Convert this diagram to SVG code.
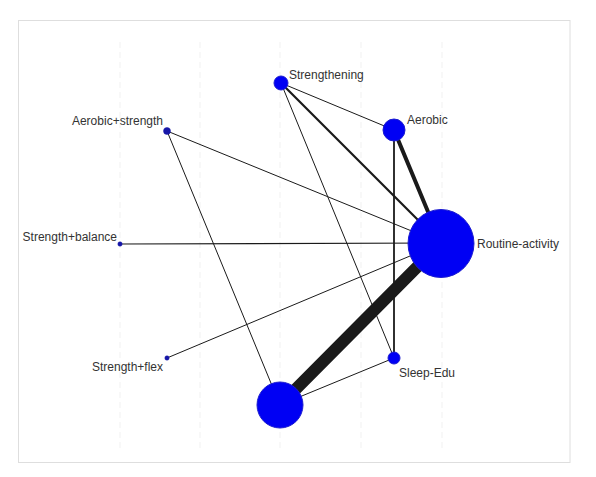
<svg xmlns="http://www.w3.org/2000/svg" width="596" height="477" viewBox="0 0 596 477">
<style>
.lbl{font-family:"Liberation Sans",Arial,sans-serif;font-size:12px;fill:#333}
.grid{stroke:#f1f1f1;stroke-width:1;stroke-dasharray:6 4;fill:none}
.e{stroke:#1a1a1a;stroke-linecap:round;fill:none}
.n{fill:#0000f4;stroke:#1c1cd0;stroke-width:1}
.s{fill:#1616a8;stroke:#1616a8;stroke-width:0.5}
</style>
<rect x="0" y="0" width="596" height="477" fill="#ffffff"/>
<rect x="18.5" y="20.5" width="551.5" height="442" fill="none" stroke="#dedede" stroke-width="1"/>
<g id="grid">
<line class="grid" x1="120" y1="42" x2="120" y2="450"/>
<line class="grid" x1="200" y1="42" x2="200" y2="450"/>
<line class="grid" x1="280" y1="42" x2="280" y2="450"/>
<line class="grid" x1="361" y1="42" x2="361" y2="450"/>
<line class="grid" x1="442" y1="42" x2="442" y2="450"/>
</g>
<g id="connectors">
<line class="e" x1="281" y1="83" x2="394" y2="130" stroke-width="1"/>
<line class="e" x1="281" y1="83" x2="441" y2="243" stroke-width="2.2"/>
<line class="e" x1="281" y1="83" x2="394" y2="358" stroke-width="1"/>
<line class="e" x1="394" y1="130" x2="441" y2="243" stroke-width="4"/>
<line class="e" x1="394" y1="130" x2="394" y2="358" stroke-width="1.8"/>
<line class="e" x1="167" y1="131" x2="441" y2="243" stroke-width="1"/>
<line class="e" x1="167" y1="131" x2="280" y2="405" stroke-width="1"/>
<line class="e" x1="120" y1="244" x2="441" y2="243" stroke-width="1.2"/>
<line class="e" x1="167" y1="358" x2="441" y2="243" stroke-width="1"/>
<line class="e" x1="441" y1="243" x2="280" y2="405" stroke-width="12" stroke-linecap="butt"/>
<line class="e" x1="280" y1="405" x2="394" y2="358" stroke-width="1"/>
</g>
<g id="node-strengthening">
<circle class="n" cx="281" cy="83" r="7"/>
<text class="lbl" x="289" y="79">Strengthening</text>
</g>
<g id="node-aerobic">
<circle class="n" cx="394" cy="130" r="11"/>
<text class="lbl" x="407" y="124">Aerobic</text>
</g>
<g id="node-aerobic-strength">
<circle class="s" cx="167" cy="131" r="3.5"/>
<text class="lbl" x="163" y="125" text-anchor="end">Aerobic+strength</text>
</g>
<g id="node-strength-balance">
<circle class="s" cx="120" cy="244" r="2.2"/>
<text class="lbl" x="117" y="240.5" text-anchor="end">Strength+balance</text>
</g>
<g id="node-routine-activity">
<ellipse class="n" cx="441" cy="243.5" rx="33" ry="34"/>
<text class="lbl" x="477" y="248">Routine-activity</text>
</g>
<g id="node-strength-flex">
<circle class="s" cx="167" cy="358" r="2.2"/>
<text class="lbl" x="163" y="371" text-anchor="end">Strength+flex</text>
</g>
<g id="node-sleep-edu">
<circle class="n" cx="394" cy="358" r="6"/>
<text class="lbl" x="399" y="377">Sleep-Edu</text>
</g>
<g id="node-bottom">
<circle class="n" cx="280" cy="405" r="23"/>
</g>
</svg>
